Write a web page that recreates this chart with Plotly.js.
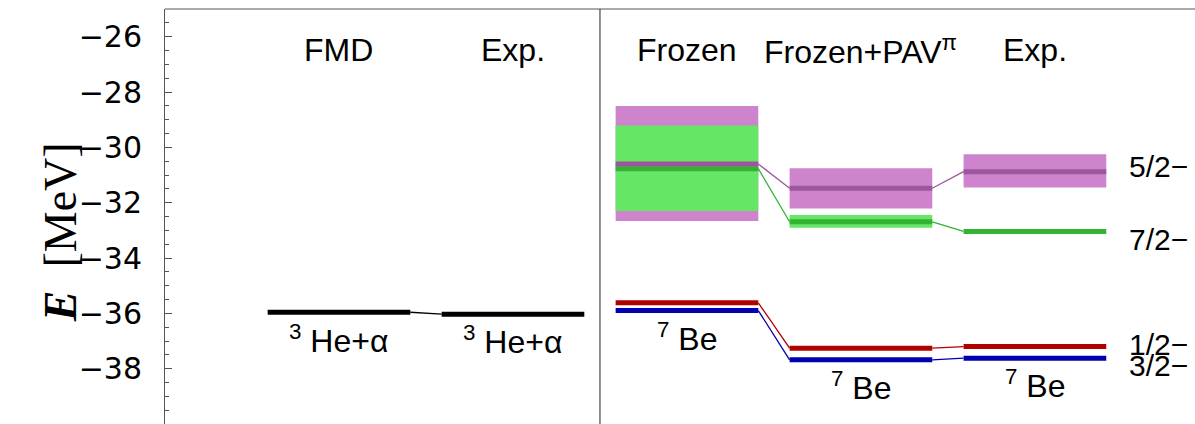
<!DOCTYPE html>
<html>
<head>
<meta charset="utf-8">
<script src="https://cdn.plot.ly/plotly-3.0.1.min.js"></script>
<style>
  html, body { margin: 0; padding: 0; background: #fff; }
  #chart { width: 1195px; height: 424px; }
</style>
</head>
<body>
<div id="chart"></div>
<script>
// columns of the level scheme (x = column index)
const columnNames = ["FMD", "Exp.", "Frozen", "Frozen+PAV<sup>π</sup>", "Exp."];

// 3He+alpha threshold, columns 0 and 1
const thresholdCols = [0, 1];
const thresholdE = [-35.96, -36.03];

// 7Be levels, columns 2, 3, 4
const be7Cols = [2, 3, 4];
const e52 = [-30.60, -31.48, -30.88];
const e72 = [-30.77, -32.69, -33.04];
const e12 = [-35.62, -37.26, -37.20];
const e32 = [-35.90, -37.68, -37.62];

// widths (resonance bands)
const band52Lo = [-32.66, -32.21, -31.45];
const band52Hi = [-28.51, -30.76, -30.25];
const band72Lo = [-32.30, -32.91, null];
const band72Hi = [-29.21, -32.45, null];

const spinLabels = ["5/2−", "7/2−", "1/2−", "3/2−"];
const yTicks = [-38, -36, -34, -32, -30, -28, -26];

const HW = 0.41; // half width of a level line
const FONT = "Liberation Sans, Arial, sans-serif";

function levels(cols, es, color, width) {
  const x = [], y = [];
  cols.forEach((c, i) => { x.push(c - HW, c + HW, null); y.push(es[i], es[i], null); });
  return { x, y, mode: "lines", line: { color, width }, hoverinfo: "skip", showlegend: false };
}

function connectors(cols, es, color) {
  const x = [], y = [];
  for (let i = 0; i < cols.length - 1; i++) {
    x.push(cols[i] + HW, cols[i + 1] - HW, null);
    y.push(es[i], es[i + 1], null);
  }
  return { x, y, mode: "lines", line: { color, width: 1.3 }, hoverinfo: "skip", showlegend: false };
}

function bands(cols, lo, hi, color) {
  const x = [], y = [];
  cols.forEach((c, i) => {
    if (lo[i] === null) return;
    x.push(c - HW, c + HW, c + HW, c - HW, c - HW, null);
    y.push(lo[i], lo[i], hi[i], hi[i], lo[i], null);
  });
  return { x, y, mode: "lines", fill: "toself", fillcolor: color, line: { width: 0 },
           hoverinfo: "skip", showlegend: false };
}

const purple = "#cd84cd", purpleLine = "#9c569e";
const green = "#66e666", greenLine = "#33b333";
const red = "#b00000", blue = "#0000b0";

const data = [
  bands(be7Cols, band52Lo, band52Hi, purple),
  bands(be7Cols, band72Lo, band72Hi, green),
  connectors(thresholdCols, thresholdE, "#000"),
  connectors(be7Cols, e72, greenLine),
  connectors(be7Cols, e52, purpleLine),
  connectors(be7Cols, e12, red),
  connectors(be7Cols, e32, blue),
  levels(thresholdCols, thresholdE, "#000", 5),
  levels(be7Cols, e72, greenLine, 5),
  levels(be7Cols, e52, purpleLine, 5),
  levels(be7Cols, e12, red, 5),
  levels(be7Cols, e32, blue, 5)
];

const annotations = [];
const txt = (x, y, text, size, extra) => Object.assign({
  x, y, xref: "x", yref: "y", text, showarrow: false,
  font: { family: FONT, size, color: "#000" }
}, extra || {});

// column headers
columnNames.forEach((n, i) => annotations.push(txt(i, -26.47, n, 32)));

// nucleus labels under the lowest level
thresholdCols.forEach((c, i) =>
  annotations.push(txt(c, thresholdE[i] - 0.95, "<sup>3</sup> He+α", 32)));
be7Cols.forEach((c, i) =>
  annotations.push(txt(c, e32[i] - 0.95, "<sup>7</sup> Be", 32)));

// spin labels to the right of the experimental column
const lastE = [e52[2], e72[2], e12[2], e32[2]];
const spinShift = [0.2, -0.28, 0.07, -0.28];
spinLabels.forEach((s, i) =>
  annotations.push(txt(4.53, lastE[i] + spinShift[i], s, 30, { xanchor: "left" })));

// y-axis title
annotations.push({
  xref: "paper", yref: "y", x: -0.128, y: -33.08, textangle: -90, showarrow: false,
  text: "<b><i>E</i></b>\u00a0\u00a0[MeV]",
  font: { family: "Liberation Serif, Times New Roman, serif", size: 46, color: "#000" }
});

const layout = {
  width: 1195, height: 424,
  margin: { l: 165, r: 0, t: 9, b: 0 },
  paper_bgcolor: "#fff", plot_bgcolor: "#fff",
  xaxis: { range: [-1, 4.92], visible: false },
  yaxis: {
    range: [-40, -25], tickmode: "array", tickvals: yTicks,
    ticks: "inside", ticklen: 7, tickcolor: "#555",
    showline: true, linecolor: "#555", linewidth: 1,
    showgrid: false, zeroline: false, ticklabelstandoff: 16,
    tickfont: { family: "DejaVu Sans, sans-serif", size: 30, color: "#000" },
    minor: { tickmode: "linear", tick0: 0, dtick: 0.5, ticks: "inside", ticklen: 4, tickcolor: "#555" }
  },
  shapes: [
    { type: "line", xref: "paper", yref: "paper", x0: 0, x1: 1, y0: 1, y1: 1,
      line: { color: "#555", width: 1 } },
    { type: "line", xref: "x", yref: "paper", x0: 1.5, x1: 1.5, y0: 0, y1: 1,
      line: { color: "#222", width: 1 } }
  ],
  annotations
};

Plotly.newPlot("chart", data, layout, { displayModeBar: false, staticPlot: true });
</script>
</body>
</html>
